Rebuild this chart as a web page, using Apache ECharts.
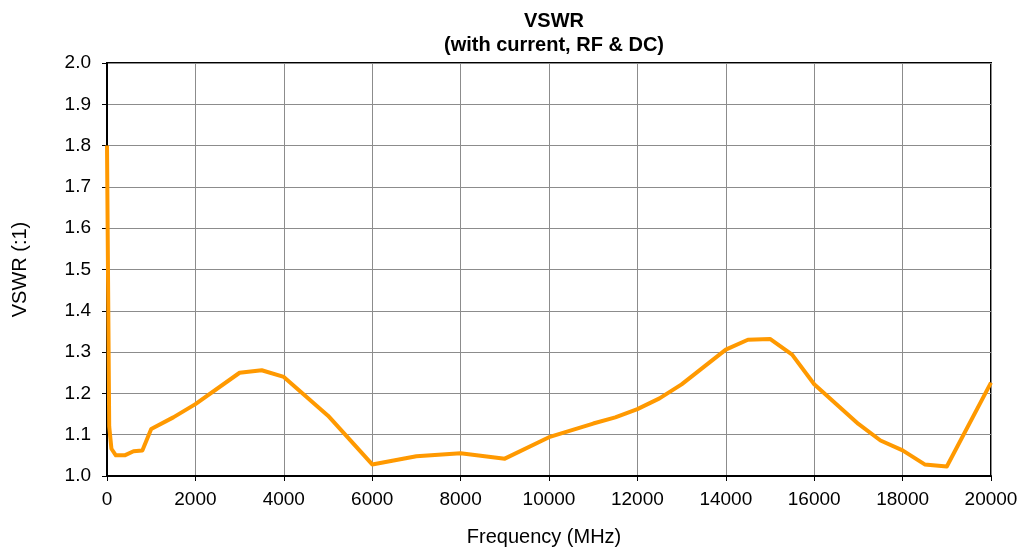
<!DOCTYPE html>
<html>
<head>
<meta charset="utf-8">
<script src="https://cdn.jsdelivr.net/npm/echarts@6/dist/echarts.min.js"></script>
<style>
    html, body { margin: 0; padding: 0; background: #fff; }
    #chart { width: 1023px; height: 552px; }
</style>
</head>
<body>
<div id="chart"></div>
<script>
// frequency points (MHz) and VSWR
var freqs = [0, 50, 100, 200, 400, 600, 800, 1000, 1500, 2000, 3000, 3500, 4000, 5000, 6000, 7000, 8000, 9000,
    10000, 11000, 11500, 12000, 12500, 13000, 14000, 14500, 15000, 15500, 16000, 17000, 17500, 18000, 18500, 19000, 20000];
var vswr = [1.80, 1.12, 1.066, 1.05, 1.05, 1.06, 1.062, 1.114, 1.142, 1.174, 1.25, 1.256, 1.24, 1.146, 1.028, 1.048, 1.055, 1.042,
    1.094, 1.127, 1.142, 1.162, 1.188, 1.222, 1.306, 1.330, 1.332, 1.294, 1.222, 1.126, 1.086, 1.062, 1.028, 1.023, 1.226];

var points = [];
for (var i = 0; i < freqs.length; i++) {
    points.push([freqs[i], vswr[i]]);
}

var myChart = echarts.init(document.getElementById('chart'));
var font = 'Liberation Sans, Arial, sans-serif';
var option = {
    animation: false,
    title: {
        text: 'VSWR\n(with current, RF & DC)',
        left: 549,
        top: 4,
        textAlign: 'center',
        textStyle: {
            fontFamily: font,
            fontSize: 20,
            fontWeight: 'bold',
            color: '#000',
            lineHeight: 24
        }
    },
    grid: {
        left: 107,
        right: 32,
        top: 63,
        bottom: 73,
        show: true,
        borderColor: '#000',
        borderWidth: 2,
        backgroundColor: '#fff'
    },
    xAxis: {
        type: 'value',
        min: 0,
        max: 20000,
        interval: 2000,
        name: 'Frequency (MHz)',
        nameLocation: 'middle',
        nameGap: 51,
        nameTextStyle: { fontFamily: font, fontSize: 20, color: '#000', padding: [0, 10, 0, 0] },
        axisLine: { show: true, lineStyle: { color: '#000', width: 2 } },
        axisTick: { show: true, inside: false, length: 5, lineStyle: { color: '#000' } },
        axisLabel: {
            fontFamily: font, fontSize: 19, color: '#000', margin: 14,
            formatter: function (v) { return String(v); }
        },
        splitLine: { show: true, lineStyle: { color: '#8c8c8c', width: 1 } }
    },
    yAxis: {
        type: 'value',
        min: 1.0,
        max: 2.0,
        interval: 0.1,
        name: 'VSWR (:1)',
        nameLocation: 'middle',
        nameGap: 77,
        nameTextStyle: { fontFamily: font, fontSize: 20, color: '#000' },
        axisLine: { show: true, lineStyle: { color: '#000', width: 2 } },
        axisTick: { show: true, inside: false, length: 5, lineStyle: { color: '#000' } },
        axisLabel: {
            fontFamily: font, fontSize: 19, color: '#000', margin: 16,
            formatter: function (v) { return v.toFixed(1); }
        },
        splitLine: { show: true, lineStyle: { color: '#8c8c8c', width: 1 } }
    },
    series: [
        {
            type: 'line',
            data: points,
            symbol: 'none',
            smooth: false,
            lineStyle: { color: '#ff9900', width: 4, join: 'round' },
            itemStyle: { color: '#ff9900' }
        }
    ]
};
myChart.setOption(option);
</script>
</body>
</html>
